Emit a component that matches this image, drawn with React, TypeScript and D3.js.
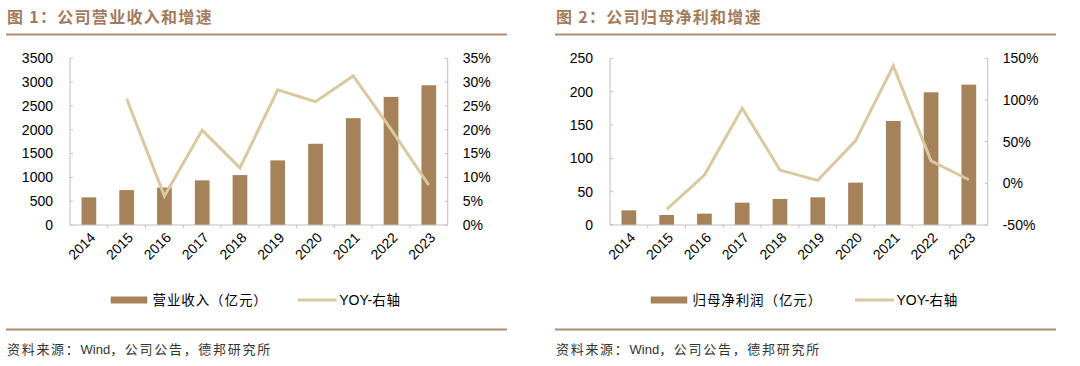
import React from "react";
import * as d3 from "d3";

// data
const years = ["2014", "2015", "2016", "2017", "2018", "2019", "2020", "2021", "2022", "2023"];
const revenue = [580, 733, 785, 937, 1048, 1356, 1705, 2243, 2690, 2934];
const revenueYoy = [null, 26.5, 6.1, 19.9, 12.0, 28.4, 25.9, 31.3, 20.1, 8.4];
const profit = [22, 15, 17, 33.5, 39, 41.5, 63.5, 156, 199, 210.5];
const profitYoy = [null, -31.2, 9.9, 90.1, 15.9, 3.5, 51, 140.8, 27, 4.3];
const revTicks = [0, 500, 1000, 1500, 2000, 2500, 3000, 3500];
const revPctTicks = [0, 5, 10, 15, 20, 25, 30, 35];
const profTicks = [0, 50, 100, 150, 200, 250];
const profPctTicks = [-50, 0, 50, 100, 150];

const BAR = "#a6825b";
const LINE = "#dac8a0";
const BROWN = "#a27b5c";
const AXIS = "#bfbfbf";
const NUM_FONT = "'Liberation Sans', Arial, sans-serif";
const CJK_FONT = "'Noto Sans CJK SC', sans-serif";

type PanelProps = {
  x0: number;
  headDx: number;
  title: string;
  barLabel: string;
  values: number[];
  yoy: (number | null)[];
  leftTicks: number[];
  rightTicks: number[];
  lineLegendX: number;
};

const Panel = (props: PanelProps) => {
  const left = 70, right = 447.7, top = 58.3, bottom = 225;
  const x = d3.scaleBand().domain(years).range([left, right]);
  const yL = d3.scaleLinear()
    .domain([props.leftTicks[0], props.leftTicks[props.leftTicks.length - 1]])
    .range([bottom, top]);
  const yR = d3.scaleLinear()
    .domain([props.rightTicks[0], props.rightTicks[props.rightTicks.length - 1]])
    .range([bottom, top]);
  const bw = x.bandwidth() * 0.39;
  const pts = years
    .map((yr, i) => ({ yr, v: props.yoy[i] }))
    .filter(d => d.v !== null) as { yr: string; v: number }[];
  const line = d3.line<{ yr: string; v: number }>()
    .x(d => (x(d.yr) as number) + x.bandwidth() / 2)
    .y(d => yR(d.v));
  const hd = props.headDx;

  return (
    <g transform={`translate(${props.x0},0)`}>
      {/* title */}
      <text x={hd + 7} y={23} fill={BROWN} fontFamily={CJK_FONT} fontWeight="bold" fontSize={16} letterSpacing={1.3}>
        {props.title}
      </text>
      <line x1={hd + 6} x2={hd + 507} y1={34.5} y2={34.5} stroke={BROWN} strokeWidth={2} opacity={0.85} />

      {/* bars */}
      {props.values.map((v, i) => (
        <rect key={i}
          x={(x(years[i]) as number) + x.bandwidth() / 2 - bw / 2}
          y={yL(v)}
          width={bw}
          height={bottom - yL(v)}
          fill={BAR} />
      ))}

      {/* axes */}
      <line x1={left} x2={left} y1={top} y2={bottom} stroke={AXIS} />
      <line x1={right} x2={right} y1={top} y2={bottom} stroke={AXIS} />
      <line x1={left} x2={right} y1={bottom} y2={bottom} stroke={AXIS} />
      {props.leftTicks.map(t => (
        <g key={"l" + t}>
          <line x1={left} x2={left + 3} y1={yL(t)} y2={yL(t)} stroke={AXIS} />
          <text x={left - 17} y={yL(t)} dy="0.35em" textAnchor="end"
            fontFamily={NUM_FONT} fontSize={14} fill="#000">{t}</text>
        </g>
      ))}
      {props.rightTicks.map(t => (
        <g key={"r" + t}>
          <line x1={right - 3} x2={right} y1={yR(t)} y2={yR(t)} stroke={AXIS} />
          <text x={right + 15} y={yR(t)} dy="0.35em" textAnchor="start"
            fontFamily={NUM_FONT} fontSize={14} fill="#000">{t + "%"}</text>
        </g>
      ))}
      {years.map((yr, i) => (
        <g key={yr}>
          {i > 0 && (
            <line x1={x(yr) as number} x2={x(yr) as number} y1={bottom} y2={bottom + 3} stroke={AXIS} />
          )}
          <text
            transform={`translate(${(x(yr) as number) + x.bandwidth() / 2 + 4},${bottom + 10}) rotate(-45)`}
            textAnchor="end" dy="0.35em"
            fontFamily={NUM_FONT} fontSize={14} fill="#000">{yr}</text>
        </g>
      ))}

      {/* yoy line */}
      <path d={line(pts) as string} fill="none" stroke={LINE} strokeWidth={3} strokeLinejoin="miter" />

      {/* legend */}
      <rect x={110.7} y={296.5} width={36.6} height={7} fill={BAR} />
      <text x={152.5} y={300} dy="0.35em" fontFamily={CJK_FONT} fontSize={13.5} fill="#000" letterSpacing={0.9}>
        {props.barLabel}
      </text>
      <line x1={props.lineLegendX} x2={props.lineLegendX + 39} y1={300} y2={300} stroke={LINE} strokeWidth={3} />
      <text x={props.lineLegendX + 41.5} y={300} dy="0.35em" fontFamily={NUM_FONT} fontSize={14} fill="#000">
        YOY-<tspan fontFamily={CJK_FONT} fontSize={13.5} letterSpacing={0.9}>右轴</tspan>
      </text>

      {/* source */}
      <line x1={hd + 6} x2={hd + 507} y1={329.5} y2={329.5} stroke={BROWN} strokeWidth={2} opacity={0.85} />
      <text x={hd + 7} y={349} dy="0.35em" fontFamily={CJK_FONT} fontSize={13} fill="#333" letterSpacing={1.7}>
        资料来源：<tspan fontFamily={NUM_FONT} letterSpacing={0}>Wind</tspan>，公司公告，德邦研究所
      </text>
    </g>
  );
};

const App = () => {
  return (
    <svg width={1080} height={366}
      style={{ position: "absolute", left: 0, top: 0, background: "#fff" }}>
      <rect width={1080} height={366} fill="#fff" />
      <Panel x0={0} headDx={0} title="图 1：公司营业收入和增速" barLabel="营业收入（亿元）"
        values={revenue} yoy={revenueYoy} leftTicks={revTicks} rightTicks={revPctTicks}
        lineLegendX={297.7} />
      <Panel x0={540} headDx={9} title="图 2：公司归母净利和增速" barLabel="归母净利润（亿元）"
        values={profit} yoy={profitYoy} leftTicks={profTicks} rightTicks={profPctTicks}
        lineLegendX={315} />
    </svg>
  );
};

export default App;
